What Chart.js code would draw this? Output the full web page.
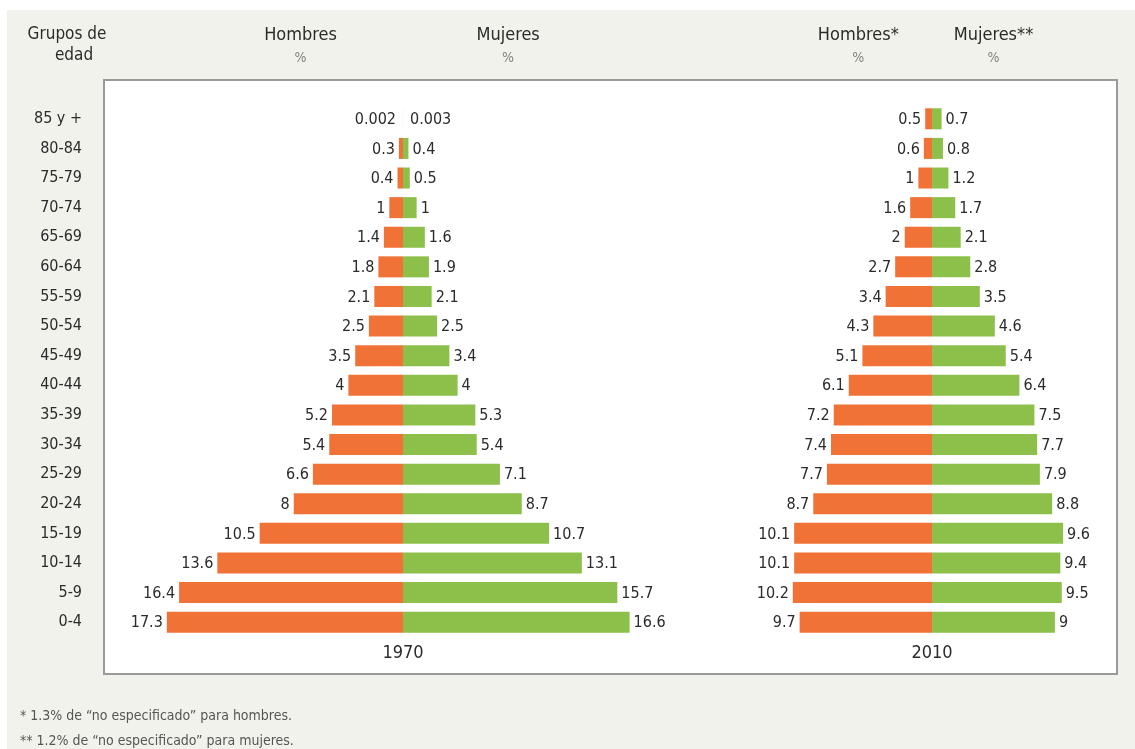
<!DOCTYPE html>
<html>
<head>
<meta charset="utf-8">
<script src="https://cdn.jsdelivr.net/npm/chart.js@4.4.1/dist/chart.umd.min.js"></script>
<style>
  html, body { margin: 0; padding: 0; background: #fff; }
  #wrap { width: 1135px; height: 749px; }
</style>
</head>
<body>
<div id="wrap"><canvas id="myChart" width="1135" height="749"></canvas></div>
<script>
const ageGroups = ["85 y +", "80-84", "75-79", "70-74", "65-69", "60-64", "55-59", "50-54", "45-49",
  "40-44", "35-39", "30-34", "25-29", "20-24", "15-19", "10-14", "5-9", "0-4"];
const men1970 = [0.002, 0.3, 0.4, 1, 1.4, 1.8, 2.1, 2.5, 3.5, 4, 5.2, 5.4, 6.6, 8, 10.5, 13.6, 16.4, 17.3];
const women1970 = [0.003, 0.4, 0.5, 1, 1.6, 1.9, 2.1, 2.5, 3.4, 4, 5.3, 5.4, 7.1, 8.7, 10.7, 13.1, 15.7, 16.6];
const men2010 = [0.5, 0.6, 1, 1.6, 2, 2.7, 3.4, 4.3, 5.1, 6.1, 7.2, 7.4, 7.7, 8.7, 10.1, 10.1, 10.2, 9.7];
const women2010 = [0.7, 0.8, 1.2, 1.7, 2.1, 2.8, 3.5, 4.6, 5.4, 6.4, 7.5, 7.7, 7.9, 8.8, 9.6, 9.4, 9.5, 9];
const years = ["1970", "2010"];

const FONT = '"DejaVu Sans Condensed", "Liberation Sans Narrow", sans-serif';
const ORANGE = "#f07236";
const GREEN = "#8dc04a";
const TEXT = "#2b2b2b";

// background, white panel and its grey border
const frame = {
  id: "frame",
  beforeDraw(chart) {
    const c = chart.ctx;
    const a = chart.chartArea;
    c.save();
    c.fillStyle = "#ffffff";
    c.fillRect(0, 0, chart.width, chart.height);
    c.fillStyle = "#f2f2ed";
    c.fillRect(7, 10, chart.width - 7, chart.height - 10);
    c.fillStyle = "#ffffff";
    c.fillRect(a.left, 80, a.right - a.left, 594);
    c.strokeStyle = "#9a9a9a";
    c.lineWidth = 2;
    c.strokeRect(a.left, 80, a.right - a.left, 594);
    c.restore();
  },
};

// value next to the end of every bar
const barValues = {
  id: "barValues",
  afterDatasetsDraw(chart) {
    const c = chart.ctx;
    c.save();
    c.font = "16px " + FONT;
    c.fillStyle = TEXT;
    c.textBaseline = "middle";
    chart.data.datasets.forEach((ds, i) => {
      chart.getDatasetMeta(i).data.forEach((bar, j) => {
        const v = ds.data[j];
        const txt = String(Math.abs(v));
        const gap = Math.abs(v) < 0.01 ? 7 : 4;
        if (v < 0) {
          c.textAlign = "right";
          c.fillText(txt, bar.x - gap, bar.y + 1);
        } else {
          c.textAlign = "left";
          c.fillText(txt, bar.x + gap, bar.y + 1);
        }
      });
    });
    c.restore();
  },
};

// column headers, year captions and footnotes
const headers = {
  id: "headers",
  afterDraw(chart) {
    const c = chart.ctx;
    const x1 = chart.scales.x1;
    const x2 = chart.scales.x2;
    c.save();
    c.textAlign = "center";
    c.textBaseline = "middle";
    c.fillStyle = TEXT;
    c.font = "17px " + FONT;
    c.fillText("Grupos de", 67, 35);
    c.fillText("edad", 74, 56);
    const heads = [
      ["Hombres", x1.getPixelForValue(-7.5)],
      ["Mujeres", x1.getPixelForValue(7.7)],
      ["Hombres*", x2.getPixelForValue(-5.4)],
      ["Mujeres**", x2.getPixelForValue(4.5)],
    ];
    heads.forEach(([t, x]) => {
      c.font = "18px " + FONT;
      c.fillStyle = TEXT;
      c.fillText(t, x, 35);
      c.font = "14px " + FONT;
      c.fillStyle = "#808080";
      c.fillText("%", x, 58);
    });
    c.fillStyle = TEXT;
    c.font = "18px " + FONT;
    c.fillText(years[0], x1.getPixelForValue(0), 653);
    c.fillText(years[1], x2.getPixelForValue(0), 653);
    c.textAlign = "left";
    c.font = "14px " + FONT;
    c.fillStyle = "#555555";
    c.fillText("* 1.3% de \u201cno especificado\u201d para hombres.", 20, 716);
    c.fillText("** 1.2% de \u201cno especificado\u201d para mujeres.", 20, 741);
    c.restore();
  },
};

const ctx = document.getElementById("myChart").getContext("2d");

new Chart(ctx, {
  type: "bar",
  data: {
    labels: ageGroups,
    datasets: [
      { label: "Hombres 1970", data: men1970.map((v) => -v), backgroundColor: ORANGE, xAxisID: "x1" },
      { label: "Mujeres 1970", data: women1970, backgroundColor: GREEN, xAxisID: "x1" },
      { label: "Hombres 2010", data: men2010.map((v) => -v), backgroundColor: ORANGE, xAxisID: "x2" },
      { label: "Mujeres 2010", data: women2010, backgroundColor: GREEN, xAxisID: "x2" },
    ],
  },
  options: {
    responsive: false,
    animation: false,
    indexAxis: "y",
    datasets: {
      bar: { grouped: false, categoryPercentage: 1, barPercentage: 0.71 },
    },
    layout: { padding: { top: 104, bottom: 112, right: 18, left: 0 } },
    plugins: {
      legend: { display: false },
      tooltip: { enabled: false },
    },
    scales: {
      y: {
        type: "category",
        grid: { display: false, drawTicks: false },
        border: { display: false },
        ticks: { autoSkip: false, padding: 22, color: TEXT, font: { family: FONT, size: 16 } },
        afterFit(scale) {
          scale.width = 104;
        },
      },
      x1: { type: "linear", position: "bottom", min: -21.9, max: 52.3, display: false },
      x2: { type: "linear", position: "bottom", min: -60.66, max: 13.55, display: false },
    },
  },
  plugins: [frame, barValues, headers],
});
</script>
</body>
</html>
